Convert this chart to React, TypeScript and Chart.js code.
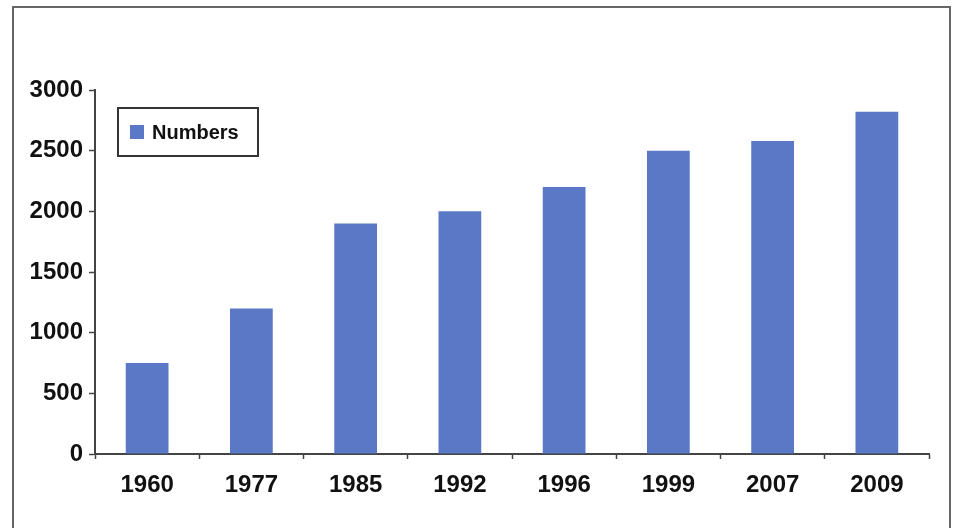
import React, { useEffect, useRef } from "react";
import { Chart, registerables } from "chart.js";

Chart.register(...registerables);

const categories: string[] = ["1960", "1977", "1985", "1992", "1996", "1999", "2007", "2009"];
const numbers: number[] = [750, 1200, 1900, 2000, 2200, 2500, 2580, 2820];
const seriesName = "Numbers";
const yTicks: number[] = [0, 500, 1000, 1500, 2000, 2500, 3000];

const BAR_COLOR = "#5b78c6";
const FONT = "'Liberation Sans', Arial, sans-serif";

const legendBoxPlugin = {
  id: "legendBox",
  afterDraw(chart: any) {
    const ctx = chart.ctx as CanvasRenderingContext2D;
    const ds = chart.data.datasets[0];
    const x = 118, y = 108, w = 140, h = 48;
    ctx.save();
    ctx.fillStyle = "#ffffff";
    ctx.fillRect(x, y, w, h);
    ctx.strokeStyle = "#333333";
    ctx.lineWidth = 2;
    ctx.strokeRect(x, y, w, h);
    ctx.fillStyle = ds.backgroundColor;
    ctx.fillRect(130, 125, 14, 14);
    ctx.fillStyle = "#111111";
    ctx.font = `bold 20px ${FONT}`;
    ctx.textBaseline = "middle";
    ctx.textAlign = "left";
    ctx.fillText(ds.label, 152, 133);
    ctx.restore();
  },
};

const frameBorderPlugin = {
  id: "frameBorder",
  beforeDraw(chart: any) {
    const ctx = chart.ctx as CanvasRenderingContext2D;
    ctx.save();
    ctx.fillStyle = "#ffffff";
    ctx.fillRect(0, 0, chart.width, chart.height);
    ctx.strokeStyle = "#666666";
    ctx.lineWidth = 2;
    ctx.strokeRect(13, 7, 937, 560);
    ctx.restore();
  },
};

export default function App() {
  const ref = useRef<HTMLCanvasElement | null>(null);

  useEffect(() => {
    if (!ref.current) return;
    const chart = new Chart(ref.current, {
      type: "bar",
      data: {
        labels: categories,
        datasets: [
          {
            label: seriesName,
            data: numbers,
            backgroundColor: BAR_COLOR,
            borderWidth: 0,
            barPercentage: 0.41,
            categoryPercentage: 1,
          },
        ],
      },
      plugins: [frameBorderPlugin, legendBoxPlugin],
      options: {
        responsive: false,
        animation: false,
        devicePixelRatio: 1,
        layout: { padding: { left: 0, right: 25, top: 90, bottom: 0 } },
        plugins: {
          legend: { display: false },
          tooltip: { enabled: false },
        },
        scales: {
          x: {
            offset: true,
            grid: {
              offset: true,
              drawOnChartArea: false,
              drawTicks: true,
              tickLength: 5,
              tickColor: "#444444",
              tickWidth: 1.5,
            },
            border: { color: "#444444", width: 2 },
            ticks: {
              color: "#111111",
              font: { family: FONT, size: 24, weight: "bold" },
              padding: 12,
              maxRotation: 0,
            },
            afterFit(scale: any) {
              scale.height = 74;
            },
          },
          y: {
            min: 0,
            max: 3000,
            afterBuildTicks(scale: any) {
              scale.ticks = yTicks.map((v) => ({ value: v }));
            },
            grid: {
              drawOnChartArea: false,
              drawTicks: true,
              tickLength: 6,
              tickColor: "#444444",
              tickWidth: 1.5,
            },
            border: { color: "#444444", width: 2 },
            ticks: {
              color: "#111111",
              font: { family: FONT, size: 24, weight: "bold" },
              padding: 6,
              callback: (value: any) => String(value),
            },
            afterFit(scale: any) {
              scale.width = 95;
            },
          },
        },
      },
    });
    return () => chart.destroy();
  }, []);

  return (
    <div style={{ position: "fixed", left: 0, top: 0, width: 954, height: 528, background: "#fff" }}>
      <canvas ref={ref} width={954} height={528} style={{ display: "block", width: 954, height: 528 }} />
    </div>
  );
}
